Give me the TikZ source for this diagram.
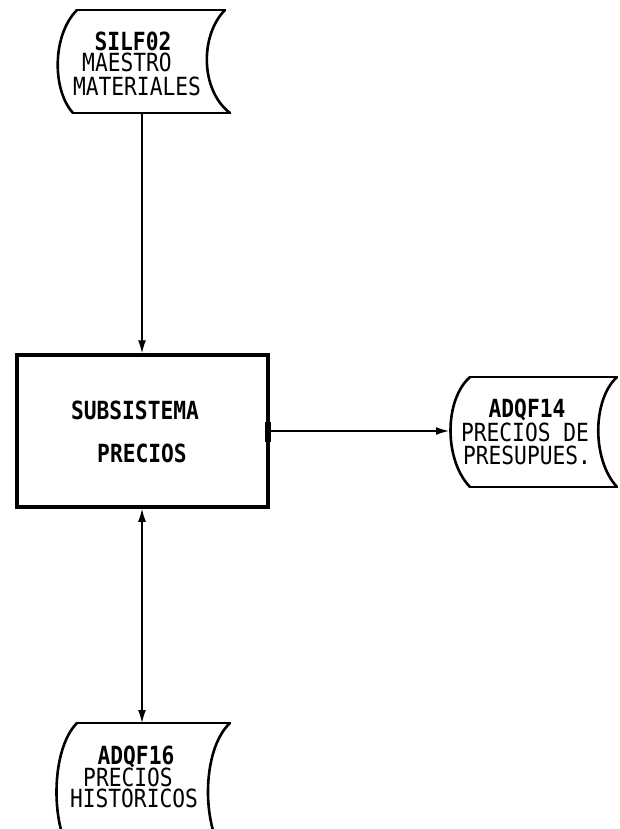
\documentclass[tikz,border=0pt]{standalone}
\usepackage{fontspec}
\newfontfamily\plotfont[FakeStretch=0.85]{DejaVu Sans Mono}
\usetikzlibrary{arrows.meta}
\tikzset{
  lbl/.style={inner sep=0pt, anchor=base, text height=18pt, text depth=0pt, font=\plotfont\fontsize{25}{28}\selectfont},
  hdr/.style={lbl, font=\plotfont\bfseries\fontsize{25}{28}\selectfont},
  store/.style={line width=2.6pt, line cap=round, line join=round},
  proc/.style={draw, line width=3.5pt, inner sep=0pt},
  flow/.style={line width=1.4pt, -{Latex[length=13pt,width=8pt]}},
  flow2/.style={line width=1.4pt, {Latex[length=13pt,width=8pt]}-{Latex[length=13pt,width=8pt]}}
}
\begin{document}
\begin{tikzpicture}[x=1pt,y=-1pt]
\useasboundingbox (0,0) rectangle (619,829);
\clip (0,0) rectangle (619,829);
% SILF02 stored data
\coordinate (s1tl) at (77,10);
\coordinate (s1tr) at (225,10);
\coordinate (s1bl) at (73,113);
\coordinate (s1br) at (230,113);
\coordinate (s1out) at (142,113);
\draw[store] (s1tl) -- (s1tr);
\draw[store] (s1bl) -- (s1br);
\draw[store] (s1tl) .. controls (52,35) and (52,90) .. (s1bl);
\draw[store] (s1tr) .. controls (200,35) and (200,90) .. (s1br);
\node[hdr] (t1a) at (133,50.5) {SILF02};
\node[lbl] (t1b) at (127,72) {MAESTRO};
\node[lbl] (t1c) at (137,96) {MATERIALES};
% process box
\node[proc, minimum width=251pt, minimum height=152pt] (box) at (142.5,431) {};
\draw[line width=6pt] (268,422) -- (268,442);
\node[hdr] (t2a) at (135,419.5) {SUBSISTEMA};
\node[hdr] (t2b) at (142,462.5) {PRECIOS};
% ADQF14
\coordinate (s2tl) at (470,377);
\coordinate (s2tr) at (617,377);
\coordinate (s2bl) at (470,487);
\coordinate (s2br) at (617,487);
\coordinate (s2in) at (449,431);
\draw[store] (s2tl) -- (s2tr);
\draw[store] (s2bl) -- (s2br);
\draw[store] (s2tl) .. controls (444,400) and (444,460) .. (s2bl);
\draw[store] (s2tr) .. controls (592,400) and (592,460) .. (s2br);
\node[hdr] (t3a) at (527,417.5) {ADQF14};
\node[lbl] (t3b) at (525,441.5) {PRECIOS DE};
\node[lbl] (t3c) at (527,464.5) {PRESUPUES.};
% ADQF16
\coordinate (s3tl) at (77,723);
\coordinate (s3tr) at (230,723);
\coordinate (s3bl) at (75,860);
\coordinate (s3br) at (228,860);
\coordinate (s3in) at (142,723);
\draw[store] (s3tl) -- (s3tr);
\draw[store] (s3tl) .. controls (50,750) and (50,830) .. (s3bl);
\draw[store] (s3tr) .. controls (201,750) and (201,830) .. (s3br);
\node[hdr] (t4a) at (136,764.5) {ADQF16};
\node[lbl] (t4b) at (128,786.5) {PRECIOS};
\node[lbl] (t4c) at (134,807.5) {HISTORICOS};
% connectors
\draw[flow] (s1out) -- (box.north -| s1out);
\draw[flow] (box.east |- s2in) -- (s2in);
\draw[flow2] (box.south -| s3in) -- (s3in);
\end{tikzpicture}
\end{document}
